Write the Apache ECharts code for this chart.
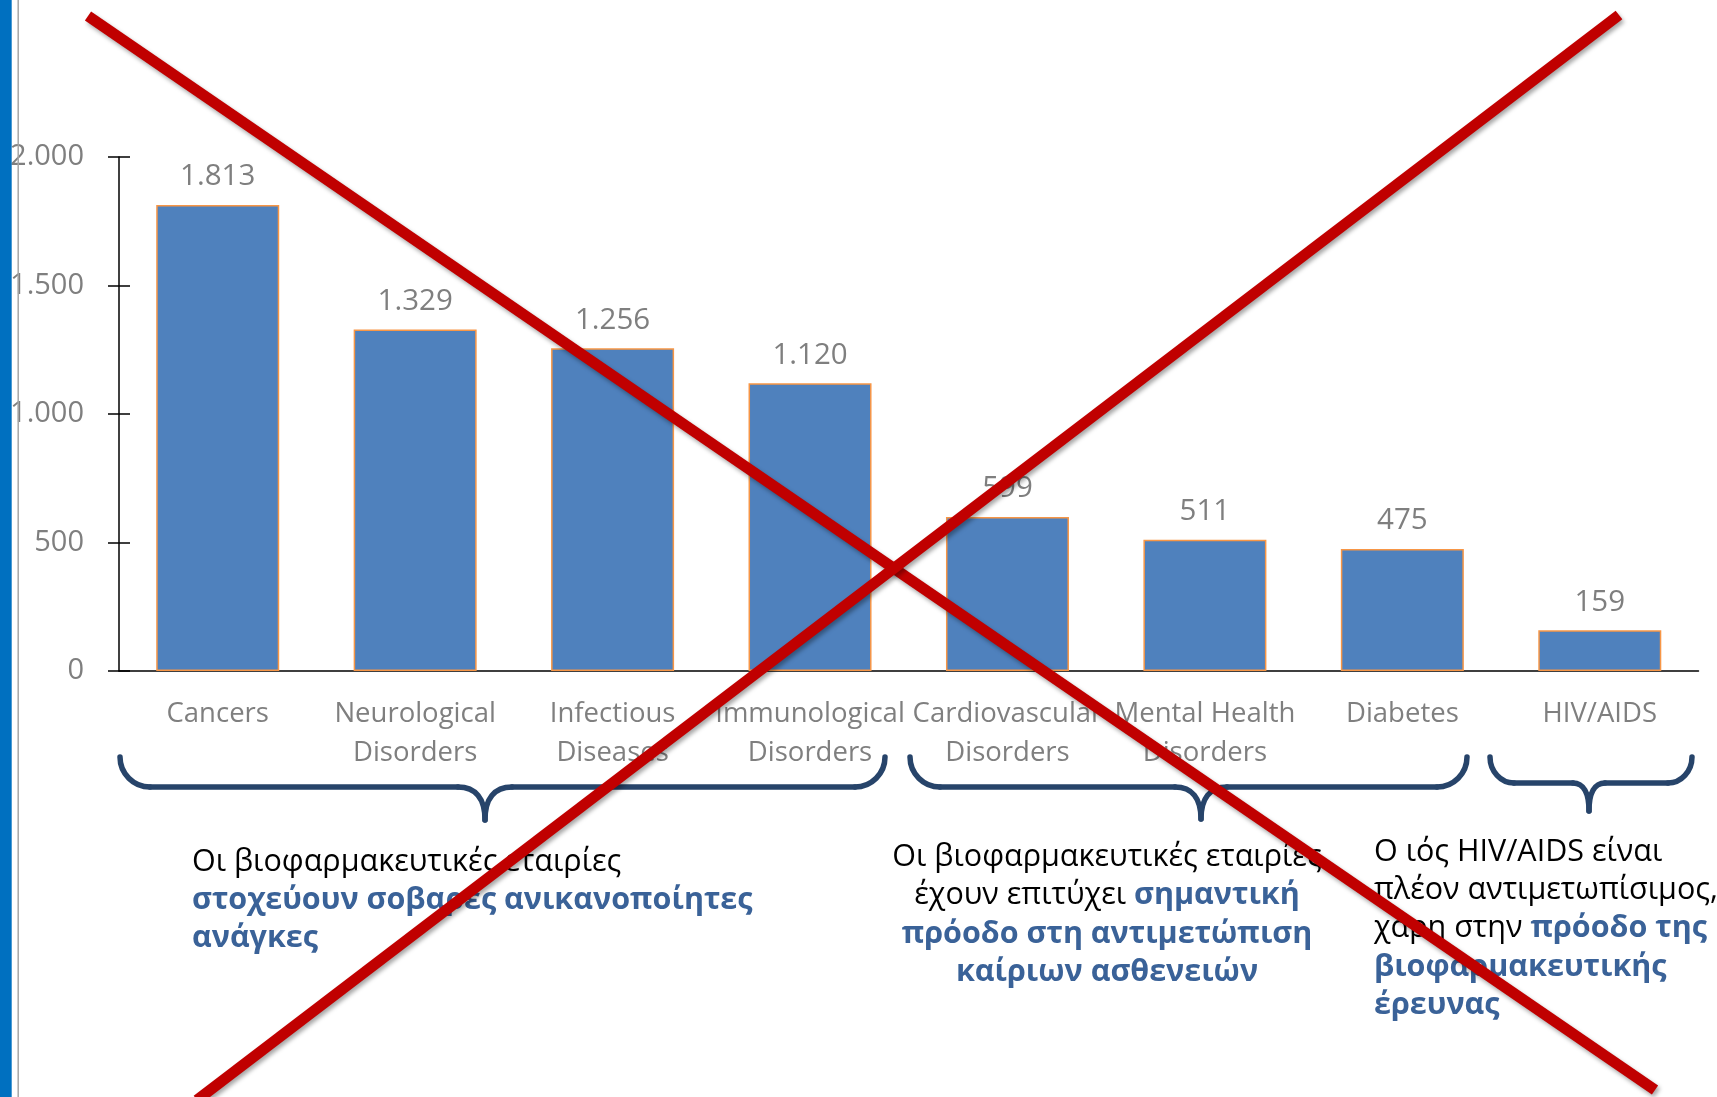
<!DOCTYPE html>
<html><head><meta charset="utf-8">
<script src="https://cdn.jsdelivr.net/npm/echarts@6/dist/echarts.min.js"></script>
<style>html,body{margin:0;padding:0;background:#fff;}#c{width:1717px;height:1097px;}</style>
</head><body><div id="c"></div>
<script>
// ---- data ----
const categories = ['Cancers', 'Neurological\nDisorders', 'Infectious\nDiseases', 'Immunological\nDisorders',
  'Cardiovascular\nDisorders', 'Mental Health\nDisorders', 'Diabetes', 'HIV/AIDS'];
const medicines = [1813, 1329, 1256, 1120, 599, 511, 475, 159];
const yMin = 0, yMax = 2000, yInterval = 500;

const note1 = ['{n|Οι βιοφαρμακευτικές εταιρίες}', '{b|στοχεύουν σοβαρές ανικανοποίητες}', '{b|ανάγκες}'];
const note2 = ['{n|Οι βιοφαρμακευτικές εταιρίες}', '{n|έχουν επιτύχει }{b|σημαντική}', '{b|πρόοδο στη αντιμετώπιση}', '{b|καίριων ασθενειών}'];
const note3 = ['{n|Ο ιός HIV/AIDS είναι}', '{n|πλέον αντιμετωπίσιμος,}', '{n|χάρη στην }{b|πρόοδο της}', '{b|βιοφαρμακευτικής}', '{b|έρευνας}'];

const fmt = v => String(v).replace(/\B(?=(\d{3})+(?!\d))/g, '.');
const FONT = '"Open Sans", "Noto Sans", sans-serif';
const GRAY = '#7f7f7f';
const NAVY = '#27446a';

const chart = echarts.init(document.getElementById('c'), null, {renderer: 'canvas'});

function brace(xL, xR, xT, yTop, yH, yTip, r, m) {
  const s = {stroke: NAVY, lineWidth: 5.5, fill: null, lineCap: 'round'};
  const k = 0.55;
  return [
    {type: 'bezierCurve', shape: {x1: xL, y1: yTop, cpx1: xL, cpy1: yTop + (yH - yTop) * k, cpx2: xL + r * (1 - k), cpy2: yH, x2: xL + r, y2: yH}, style: s},
    {type: 'line', shape: {x1: xL + r, y1: yH, x2: xT - m, y2: yH}, style: s},
    {type: 'bezierCurve', shape: {x1: xT - m, y1: yH, cpx1: xT - m * 0.35, cpy1: yH, cpx2: xT, cpy2: yH + (yTip - yH) * 0.35, x2: xT, y2: yTip}, style: s},
    {type: 'bezierCurve', shape: {x1: xT + m, y1: yH, cpx1: xT + m * 0.35, cpy1: yH, cpx2: xT, cpy2: yH + (yTip - yH) * 0.35, x2: xT, y2: yTip}, style: s},
    {type: 'line', shape: {x1: xR - r, y1: yH, x2: xT + m, y2: yH}, style: s},
    {type: 'bezierCurve', shape: {x1: xR, y1: yTop, cpx1: xR, cpy1: yTop + (yH - yTop) * k, cpx2: xR - r * (1 - k), cpy2: yH, x2: xR - r, y2: yH}, style: s}
  ];
}

const NOTE_SIZE = 30.5;
function note(lines, x, y, align, lh) {
  return {
    type: 'text', x: x, y: y, z: 50,
    style: {
      text: lines.join('\n'),
      rich: {
        n: {fontFamily: FONT, fontSize: NOTE_SIZE, fontWeight: 'normal', fill: '#000000', lineHeight: lh},
        b: {fontFamily: FONT, fontSize: NOTE_SIZE, fontWeight: 'bold', fill: '#3a6298', lineHeight: lh}
      },
      align: align, verticalAlign: 'top', lineHeight: lh,
      font: NOTE_SIZE + 'px ' + FONT, fill: '#000'
    }
  };
}

const redStyle = {stroke: '#C00000', lineWidth: 11, lineCap: 'butt', shadowBlur: 4, shadowOffsetX: 2, shadowOffsetY: 3, shadowColor: 'rgba(0,0,0,0.35)'};

const option = {
  backgroundColor: '#ffffff',
  animation: false,
  grid: {left: 119, top: 157, right: 18.5, bottom: 426, containLabel: false},
  xAxis: {
    type: 'category', data: categories,
    axisLine: {show: true, lineStyle: {color: '#000', width: 1.5}},
    axisTick: {show: false},
    axisLabel: {interval: 0, color: GRAY, fontFamily: FONT, fontSize: 27.5, lineHeight: 39, margin: 24}
  },
  yAxis: [{
    type: 'value', min: yMin, max: yMax, interval: yInterval,
    axisLine: {show: true, lineStyle: {color: '#000', width: 1.5}},
    axisTick: {show: true, length: 11, lineStyle: {color: '#000', width: 1.5}},
    splitLine: {show: false},
    axisLabel: {color: GRAY, fontFamily: FONT, fontSize: 29, margin: 35, formatter: fmt}
  }, {
    type: 'value', min: yMin, max: yMax, interval: yInterval, position: 'left',
    axisLine: {show: false},
    axisTick: {show: true, inside: true, length: 11, lineStyle: {color: '#000', width: 1.5}},
    splitLine: {show: false}, axisLabel: {show: false}
  }],
  series: [{
    type: 'bar', data: medicines, barWidth: 123, yAxisIndex: 0,
    itemStyle: {color: '#4F81BD', borderColor: '#F79646', borderWidth: 1.5},
    label: {show: true, position: 'top', distance: 13, color: GRAY, fontFamily: FONT, fontSize: 29.5, formatter: p => fmt(p.value)}
  }],
  graphic: [
    {type: 'rect', shape: {x: 0, y: 0, width: 11.7, height: 1097}, style: {fill: '#0070C0'}, z: 61},
    {type: 'line', shape: {x1: 18.2, y1: 0, x2: 18.2, y2: 1097}, style: {stroke: '#a6a6a6', lineWidth: 1.5}, z: 61},
    ...brace(120, 885, 485, 757, 787, 820, 30, 27),
    ...brace(910, 1467, 1201, 757, 787, 819, 30, 26),
    ...brace(1490, 1692, 1589, 757, 783, 811, 24, 16),
    note(note1, 192, 843, 'left', 38),
    note(note2, 1107, 838, 'center', 38.5),
    note(note3, 1374, 833, 'left', 38.3),
    {type: 'line', z: 100, shape: {x1: 88, y1: 16, x2: 1655, y2: 1090}, style: redStyle},
    {type: 'line', z: 100, shape: {x1: 1619, y1: 15, x2: 197, y2: 1100}, style: redStyle}
  ]
};
chart.setOption(option);
</script></body></html>
